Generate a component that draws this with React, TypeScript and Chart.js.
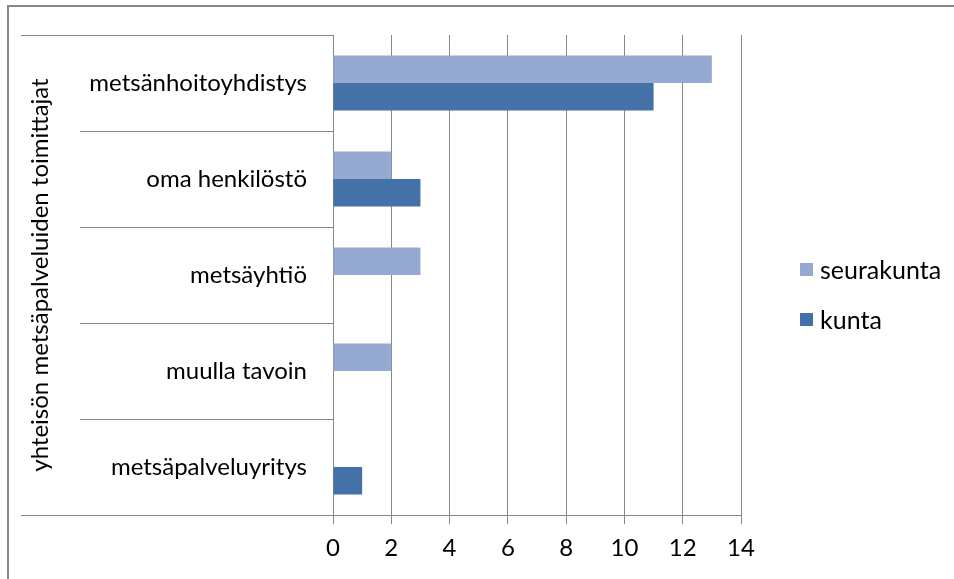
import React, { useEffect, useRef } from "react";
import { Chart, registerables } from "chart.js";

Chart.register(...registerables);

const categories = [
  "metsänhoitoyhdistys",
  "oma henkilöstö",
  "metsäyhtiö",
  "muulla tavoin",
  "metsäpalveluyritys",
];
const seriesNames = ["seurakunta", "kunta"];
const seurakunta = [13, 2, 3, 2, 0];
const kunta = [11, 3, 0, 0, 1];
const axisTitle = "yhteisön metsäpalveluiden toimittajat";
const xMin = 0;
const xMax = 14;
const xStep = 2;

const colors = ["#95A9D1", "#4472A8"];
const lineColor = "#868686";
const FONT = "Lato";

const decorPlugin = {
  id: "decor",
  beforeDraw(chart: any) {
    const ctx = chart.ctx;
    ctx.save();
    ctx.fillStyle = "#ffffff";
    ctx.fillRect(0, 0, chart.width, chart.height);
    ctx.restore();
  },
  afterDraw(chart: any) {
    const ctx = chart.ctx;
    const y = chart.scales.y;
    const x = chart.scales.x;
    const n = categories.length;
    const band = (y.bottom - y.top) / n;
    ctx.save();
    ctx.strokeStyle = lineColor;
    ctx.lineWidth = 1;
    for (let i = 0; i <= n; i++) {
      const py = Math.round(y.top + i * band) + 0.5;
      const startX = i === 0 || i === n ? 21 : 80;
      ctx.beginPath();
      ctx.moveTo(startX, py);
      ctx.lineTo(x.left, py);
      ctx.stroke();
    }
    // outer frame
    ctx.lineWidth = 2;
    ctx.beginPath();
    ctx.moveTo(8, chart.height);
    ctx.lineTo(8, 6);
    ctx.lineTo(chart.width, 6);
    ctx.stroke();
    // legend
    ctx.font = `25px ${FONT}`;
    ctx.textBaseline = "middle";
    ctx.textAlign = "left";
    const centers = [270, 320];
    seriesNames.forEach((name, i) => {
      ctx.fillStyle = colors[i];
      ctx.fillRect(800, centers[i] - 7, 13, 13);
      ctx.fillStyle = "#000000";
      ctx.fillText(name, 820, centers[i] + 1);
    });
    ctx.restore();
  },
};

export default function App() {
  const ref = useRef<HTMLCanvasElement>(null);
  useEffect(() => {
    document.body.style.margin = "0";
    const chart = new Chart(ref.current!, {
      type: "bar",
      data: {
        labels: categories,
        datasets: [
          {
            label: seriesNames[0],
            data: seurakunta,
            backgroundColor: colors[0],
          },
          {
            label: seriesNames[1],
            data: kunta,
            backgroundColor: colors[1],
          },
        ],
      },
      plugins: [decorPlugin],
      options: {
        indexAxis: "y",
        animation: false,
        responsive: false,
        devicePixelRatio: 1,
        layout: { padding: { left: 14, top: 35, right: 213, bottom: 0 } },
        datasets: {
          bar: { categoryPercentage: 0.573, barPercentage: 1 },
        },
        plugins: {
          legend: { display: false },
          tooltip: { enabled: false },
        },
        scales: {
          x: {
            type: "linear",
            min: xMin,
            max: xMax,
            ticks: {
              stepSize: xStep,
              color: "#000000",
              font: { family: FONT, size: 24 },
              padding: 10,
            },
            grid: {
              color: lineColor,
              drawTicks: true,
              tickLength: 9,
            },
            border: { display: true, color: lineColor },
            afterFit: (s: any) => {
              s.height = 64;
              s.paddingLeft = 0;
              s.paddingRight = 0;
            },
          },
          y: {
            type: "category",
            ticks: {
              color: "#000000",
              font: { family: FONT, size: 24 },
              padding: 26,
            },
            grid: { display: false, drawTicks: false },
            border: { display: true, color: lineColor },
            title: {
              display: true,
              text: axisTitle,
              color: "#000000",
              font: { family: FONT, size: 24 },
              padding: { top: 12, bottom: 0 },
            },
            afterFit: (s: any) => {
              s.width = 333 - 14;
              s.paddingTop = 0;
              s.paddingBottom = 0;
            },
          },
        },
      },
    });
    return () => chart.destroy();
  }, []);
  return <canvas ref={ref} width={954} height={579} style={{ display: "block" }} />;
}
